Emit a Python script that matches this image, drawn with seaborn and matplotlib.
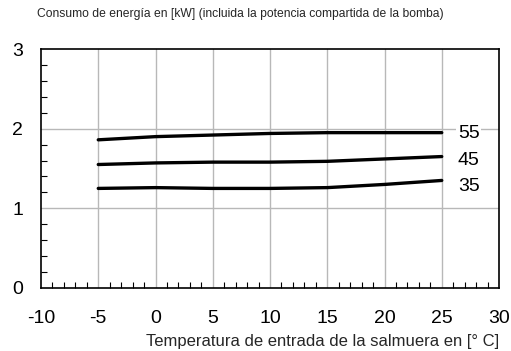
import numpy as np
import pandas as pd
import matplotlib
matplotlib.use("Agg")
import matplotlib.pyplot as plt
import seaborn as sns
from matplotlib.ticker import MultipleLocator

temps = [-5, 0, 5, 10, 15, 20, 25]
s55 = [1.86, 1.90, 1.92, 1.94, 1.95, 1.95, 1.95]
s45 = [1.55, 1.57, 1.58, 1.58, 1.59, 1.62, 1.65]
s35 = [1.25, 1.26, 1.25, 1.25, 1.26, 1.30, 1.35]
series_names = ["55", "45", "35"]
label_y = [1.94, 1.60, 1.28]
x_ticks = [-10, -5, 0, 5, 10, 15, 20, 25, 30]
y_ticks = [0, 1, 2, 3]

df = pd.DataFrame({
    "temp": temps * 3,
    "kw": s55 + s45 + s35,
    "serie": [n for n in series_names for _ in temps],
})

sns.set_style("white")
plt.rcParams['font.family'] = ['Liberation Sans', 'DejaVu Sans']

fig = plt.figure(figsize=(5.11, 3.51), dpi=100)
ax = fig.add_axes([41 / 511, 1 - 288 / 351, 458 / 511, 239 / 351])

for v in x_ticks[1:-1]:
    ax.axvline(v, color="#b8b8b8", lw=1.0, zorder=0)
for v in [1, 2]:
    ax.axhline(v, color="#b8b8b8", lw=1.0, zorder=0)

sns.lineplot(data=df, x="temp", y="kw", hue="serie", palette=["black"] * 3,
             lw=2.4, legend=False, ax=ax, zorder=3)

ax.set_xlim(-10, 30)
ax.set_ylim(0, 3)
ax.set_xticks(x_ticks)
ax.set_xticklabels([str(t) for t in x_ticks])
ax.set_yticks(y_ticks)
ax.set_yticklabels([str(t) for t in y_ticks])
ax.xaxis.set_minor_locator(MultipleLocator(1))
ax.yaxis.set_minor_locator(MultipleLocator(0.2))
ax.tick_params(axis="both", which="major", length=0, labelsize=14, colors="black")
ax.tick_params(axis="x", which="major", pad=16)
ax.tick_params(axis="y", which="major", pad=13)
ax.tick_params(axis="both", which="minor", direction="in", length=4, width=0.8, color="black")
ax.tick_params(bottom=True, left=True, which="minor")

for sp in ax.spines.values():
    sp.set_visible(True)
    sp.set_color("black")
    sp.set_linewidth(1.2)

for n, yv in zip(series_names, label_y):
    ax.text(26.4, yv, n, fontsize=14, va="center", ha="left", color="black",
            zorder=4, bbox=dict(facecolor="white", edgecolor="none", pad=1.0))

ax.set_xlabel("Temperatura de entrada de la salmuera en [° C]", fontsize=12,
              ha="right", x=1.0, labelpad=5)
ax.set_ylabel("")
fig.text(37 / 511, 1 - 14 / 351,
         "Consumo de energía en [kW] (incluida la potencia compartida de la bomba)",
         fontsize=8.7, ha="left", va="center")

fig.savefig("out.png", dpi=100)
